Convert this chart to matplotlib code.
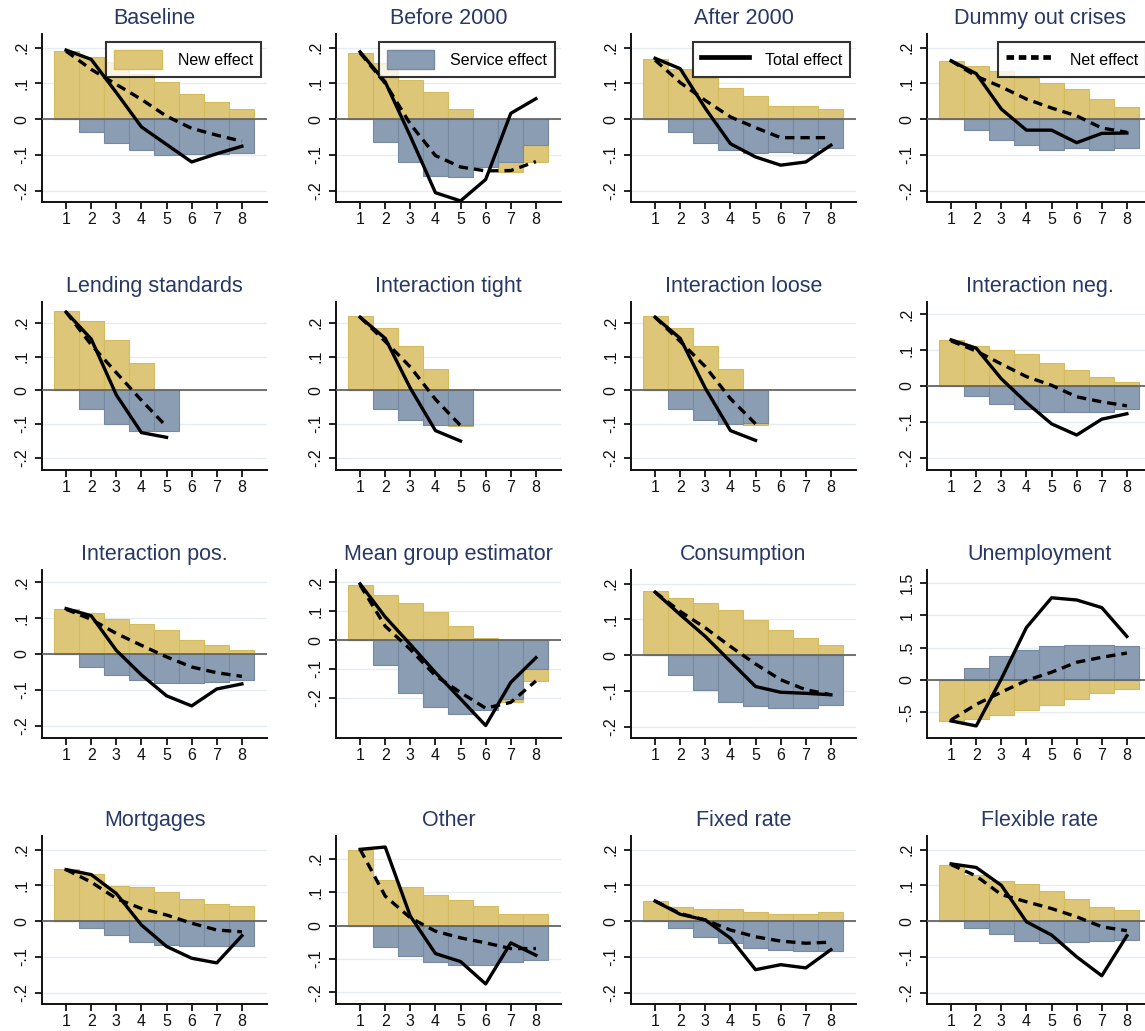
import matplotlib
matplotlib.use('Agg')
import matplotlib.pyplot as plt
import numpy as np
from matplotlib.patches import Patch
from matplotlib.lines import Line2D

nan = np.nan
periods = [1, 2, 3, 4, 5, 6, 7, 8]

titles = ['Baseline', 'Before 2000', 'After 2000', 'Dummy out crises',
          'Lending standards', 'Interaction tight', 'Interaction loose', 'Interaction neg.',
          'Interaction pos.', 'Mean group estimator', 'Consumption', 'Unemployment',
          'Mortgages', 'Other', 'Fixed rate', 'Flexible rate']

new_effect = [
    [0.19, 0.174, 0.16, 0.125, 0.103, 0.07, 0.047, 0.028],
    [0.185, 0.156, 0.11, 0.076, 0.027, -0.01, -0.147, -0.119],
    [0.167, 0.139, 0.116, 0.088, 0.065, 0.036, 0.036, 0.028],
    [0.163, 0.149, 0.135, 0.114, 0.102, 0.084, 0.057, 0.033],
    [0.235, 0.205, 0.15, 0.082, -0.005, nan, nan, nan],
    [0.219, 0.185, 0.132, 0.064, -0.107, nan, nan, nan],
    [0.219, 0.185, 0.132, 0.064, -0.103, nan, nan, nan],
    [0.128, 0.11, 0.101, 0.088, 0.065, 0.043, 0.025, 0.011],
    [0.126, 0.113, 0.098, 0.084, 0.066, 0.038, 0.024, 0.01],
    [0.19, 0.154, 0.127, 0.098, 0.047, 0.007, -0.213, -0.141],
    [0.178, 0.16, 0.146, 0.126, 0.098, 0.07, 0.047, 0.028],
    [-0.64, -0.6, -0.54, -0.47, -0.395, -0.29, -0.21, -0.14],
    [0.146, 0.132, 0.098, 0.094, 0.08, 0.061, 0.048, 0.043],
    [0.227, 0.137, 0.116, 0.091, 0.076, 0.057, 0.035, 0.035],
    [0.056, 0.039, 0.034, 0.033, 0.024, 0.019, 0.019, 0.024],
    [0.157, 0.13, 0.113, 0.103, 0.084, 0.061, 0.039, 0.03],
]

service_effect = [
    [0, -0.036, -0.068, -0.087, -0.1, -0.097, -0.097, -0.095],
    [0, -0.064, -0.119, -0.159, -0.163, -0.135, -0.119, -0.073],
    [0, -0.036, -0.068, -0.087, -0.096, -0.092, -0.096, -0.081],
    [0, -0.03, -0.059, -0.072, -0.086, -0.081, -0.086, -0.08],
    [0, -0.056, -0.101, -0.12, -0.12, nan, nan, nan],
    [0, -0.057, -0.089, -0.104, -0.102, nan, nan, nan],
    [0, -0.057, -0.089, -0.099, -0.098, nan, nan, nan],
    [0, -0.028, -0.051, -0.065, -0.073, -0.073, -0.073, -0.065],
    [0, -0.035, -0.059, -0.073, -0.081, -0.081, -0.079, -0.073],
    [0, -0.087, -0.181, -0.23, -0.255, -0.24, -0.203, -0.1],
    [0, -0.055, -0.097, -0.13, -0.143, -0.149, -0.149, -0.139],
    [0, 0.185, 0.364, 0.467, 0.518, 0.544, 0.544, 0.518],
    [0, -0.02, -0.039, -0.059, -0.067, -0.069, -0.069, -0.071],
    [0, -0.063, -0.092, -0.108, -0.118, -0.118, -0.108, -0.103],
    [0, -0.02, -0.044, -0.062, -0.074, -0.081, -0.085, -0.085],
    [0, -0.02, -0.037, -0.055, -0.062, -0.059, -0.057, -0.053],
]

total_effect = [
    [0.193, 0.167, 0.074, -0.022, -0.071, -0.12, -0.097, -0.076],
    [0.188, 0.104, -0.048, -0.206, -0.229, -0.169, 0.016, 0.057],
    [0.17, 0.141, 0.03, -0.069, -0.106, -0.129, -0.12, -0.073],
    [0.163, 0.127, 0.028, -0.031, -0.031, -0.066, -0.04, -0.039],
    [0.232, 0.152, -0.014, -0.126, -0.14, nan, nan, nan],
    [0.217, 0.154, 0.006, -0.12, -0.151, nan, nan, nan],
    [0.217, 0.154, 0.006, -0.12, -0.149, nan, nan, nan],
    [0.128, 0.105, 0.02, -0.046, -0.105, -0.136, -0.092, -0.077],
    [0.126, 0.106, 0.01, -0.058, -0.116, -0.144, -0.097, -0.083],
    [0.194, 0.08, -0.015, -0.112, -0.203, -0.295, -0.146, -0.061],
    [0.176, 0.113, 0.052, -0.018, -0.088, -0.104, -0.107, -0.111],
    [-0.636, -0.713, 0.015, 0.81, 1.27, 1.236, 1.118, 0.672],
    [0.144, 0.13, 0.077, -0.011, -0.071, -0.104, -0.117, -0.041],
    [0.228, 0.235, 0.028, -0.084, -0.108, -0.175, -0.052, -0.089],
    [0.056, 0.019, 0.003, -0.048, -0.136, -0.122, -0.131, -0.08],
    [0.16, 0.15, 0.1, -0.002, -0.039, -0.1, -0.153, -0.041],
]

net_effect = [
    [0.19, 0.139, 0.097, 0.055, 0.008, -0.026, -0.045, -0.062],
    [0.185, 0.10, -0.014, -0.102, -0.134, -0.145, -0.144, -0.119],
    [0.165, 0.102, 0.052, 0.006, -0.024, -0.052, -0.052, -0.052],
    [0.163, 0.12, 0.09, 0.056, 0.031, 0.009, -0.025, -0.037],
    [0.232, 0.135, 0.052, -0.03, -0.108, nan, nan, nan],
    [0.217, 0.145, 0.069, -0.027, -0.105, nan, nan, nan],
    [0.217, 0.145, 0.07, -0.025, -0.1, nan, nan, nan],
    [0.125, 0.097, 0.061, 0.026, 0.002, -0.03, -0.044, -0.055],
    [0.124, 0.096, 0.057, 0.024, -0.008, -0.036, -0.052, -0.062],
    [0.19, 0.048, -0.032, -0.123, -0.181, -0.235, -0.215, -0.141],
    [0.176, 0.122, 0.076, 0.024, -0.025, -0.069, -0.097, -0.111],
    [-0.62, -0.38, -0.19, -0.01, 0.118, 0.272, 0.349, 0.415],
    [0.144, 0.109, 0.063, 0.035, 0.017, -0.006, -0.025, -0.03],
    [0.228, 0.088, 0.023, -0.017, -0.037, -0.052, -0.069, -0.069],
    [0.056, 0.021, 0.003, -0.025, -0.044, -0.056, -0.062, -0.059],
    [0.158, 0.126, 0.074, 0.054, 0.035, 0.012, -0.016, -0.027],
]

# axis ranges (Stata pads each panel a bit differently)
ylims = [(-0.232, 0.238)] * 16
ylims[4] = ylims[5] = ylims[6] = (-0.237, 0.262)
ylims[7] = ylims[8] = (-0.233, 0.233)
ylims[9] = (-0.338, 0.242)
ylims[11] = (-0.9, 1.70)
ylims[13] = (-0.235, 0.268)

yticks = [-0.2, -0.1, 0, 0.1, 0.2]
yticklabels = ['-.2', '-.1', '0', '.1', '.2']
unemp_ticks = [-0.5, 0, 0.5, 1, 1.5]
unemp_labels = ['-.5', '0', '.5', '1', '1.5']

YELLOW = '#ddc677'
YELLOW_EDGE = '#d3bb5e'
BLUE = '#8a9db2'
BLUE_EDGE = '#7689a1'
TITLE_COL = '#283866'

plt.rcParams['font.family'] = ['Liberation Sans', 'DejaVu Sans']

W, H = 1145, 1031
fig = plt.figure(figsize=(W / 100, H / 100), dpi=100)

col_left = [42, 336, 631, 927]
row_top = [34, 302, 570, 836]
ax_w, ax_h = 225, 168

legend_items = [
    Patch(facecolor=YELLOW, edgecolor=YELLOW_EDGE, label='New effect'),
    Patch(facecolor=BLUE, edgecolor=BLUE_EDGE, label='Service effect'),
    Line2D([], [], color='black', lw=3.4, label='Total effect'),
    Line2D([], [], color='black', lw=3.4, ls=(0, (1.6, 1.0)), label='Net effect'),
]

for i, title in enumerate(titles):
    r, c = divmod(i, 4)
    rect = [col_left[c] / W, 1 - (row_top[r] + ax_h) / H, ax_w / W, ax_h / H]
    ax = fig.add_axes(rect)

    ax.bar(periods, new_effect[i], width=1.0, color=YELLOW, edgecolor=YELLOW_EDGE,
           linewidth=0.8, zorder=2)
    ax.bar(periods, service_effect[i], width=1.0, color=BLUE, edgecolor=BLUE_EDGE,
           linewidth=0.8, zorder=3)
    ax.axhline(0, color='#666666', lw=1.3, zorder=4)
    ax.plot(periods, total_effect[i], color='black', lw=2.4, zorder=6,
            solid_joinstyle='round')
    ax.plot(periods, net_effect[i], color='black', lw=2.4, zorder=5,
            dashes=(2.8, 1.8))

    ax.set_xlim(0.04, 9.0)
    ax.set_ylim(*ylims[i])
    if i == 11:
        ax.set_yticks(unemp_ticks)
        ax.set_yticklabels(unemp_labels)
    else:
        ax.set_yticks(yticks)
        ax.set_yticklabels(yticklabels)
    ax.set_xticks(periods)
    ax.set_xticklabels([str(p) for p in periods])
    ax.grid(axis='y', color='#e4edf2', lw=1.0, zorder=0)
    ax.set_axisbelow(True)

    for s in ['top', 'right']:
        ax.spines[s].set_visible(False)
    for s in ['left', 'bottom']:
        ax.spines[s].set_linewidth(1.4)
        ax.spines[s].set_color('#111111')
    ax.tick_params(axis='both', direction='out', length=5, width=1.3,
                   labelsize=11.5, colors='#111111', pad=4)
    ax.tick_params(axis='x', pad=2.5)
    ax.tick_params(axis='y', labelrotation=90)
    for lab in ax.get_yticklabels():
        lab.set_verticalalignment('center')
    ax.set_title(title, fontsize=15.5, color=TITLE_COL, pad=7)

    if r == 0:
        leg = ax.legend(handles=[legend_items[c]], loc='upper right',
                        bbox_to_anchor=(0.975, 0.955), borderaxespad=0,
                        fontsize=11.5, frameon=True, fancybox=False,
                        handlelength=3.0, handleheight=1.5, borderpad=0.5,
                        handletextpad=1.0)
        leg.get_frame().set_edgecolor('black')
        leg.get_frame().set_linewidth(1.5)
        leg.set_zorder(10)

fig.savefig('out.png', dpi=100)
